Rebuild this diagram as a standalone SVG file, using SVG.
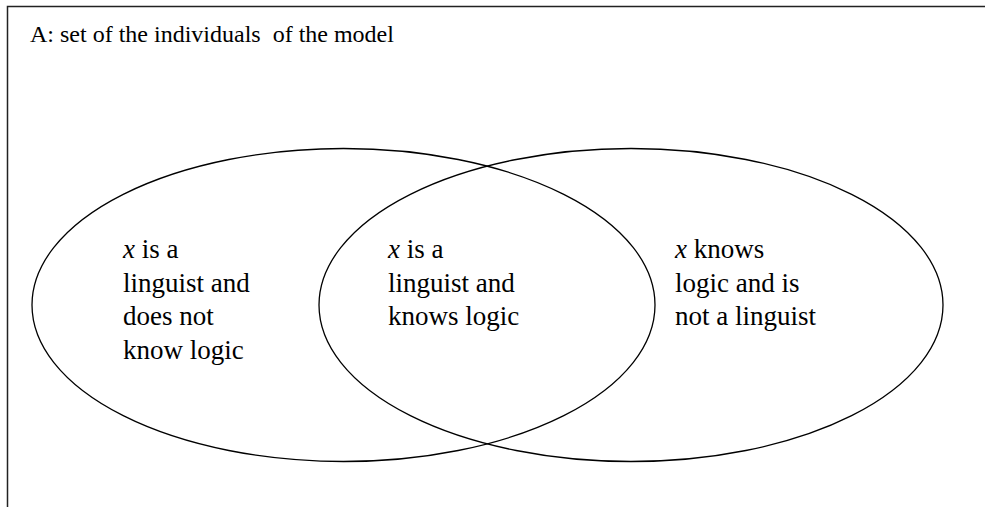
<svg xmlns="http://www.w3.org/2000/svg" width="985" height="507" viewBox="0 0 985 507">
<defs>
<style>
.e{fill:none;stroke:#000;stroke-width:1.3}
</style>
</defs>
<rect width="985" height="507" fill="#fff"/>
<g id="universe">
<path d="M7.5,507 V6.5 H990" fill="none" stroke="#222" stroke-width="1.5"/>
<text x="30" y="42" font-family="'Liberation Serif', 'Times New Roman', serif" font-size="24" xml:space="preserve">A: set of the individuals  of the model</text>
</g>
<g id="linguists">
<ellipse class="e" cx="343.5" cy="305" rx="311.5" ry="156.5"/>
<text font-family="'Liberation Serif', 'Times New Roman', serif" font-size="27"><tspan x="123" y="258"><tspan font-style="italic">x</tspan> is a</tspan><tspan x="123" y="291.5">linguist and</tspan><tspan x="123" y="325">does not</tspan><tspan x="123" y="358.5">know logic</tspan></text>
</g>
<g id="logicians">
<ellipse class="e" cx="631" cy="305" rx="312" ry="156.5"/>
<text font-family="'Liberation Serif', 'Times New Roman', serif" font-size="27"><tspan x="675" y="258"><tspan font-style="italic">x</tspan> knows</tspan><tspan x="675" y="291.5">logic and is</tspan><tspan x="675" y="325">not a linguist</tspan></text>
</g>
<g id="intersection">
<text font-family="'Liberation Serif', 'Times New Roman', serif" font-size="27"><tspan x="388" y="258"><tspan font-style="italic">x</tspan> is a</tspan><tspan x="388" y="291.5">linguist and</tspan><tspan x="388" y="325">knows logic</tspan></text>
</g>
<g id="connectors"></g>
</svg>
